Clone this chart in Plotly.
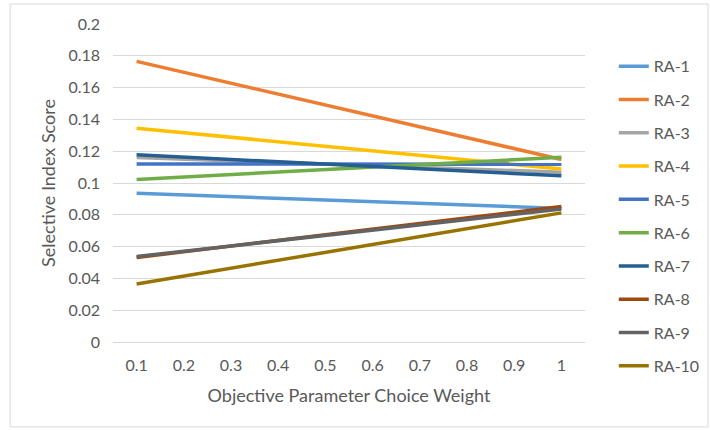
import plotly.graph_objects as go

weights = [0.1, 1.0]
tick_vals = [0.1, 0.2, 0.3, 0.4, 0.5, 0.6, 0.7, 0.8, 0.9, 1.0]
tick_text = ["0.1", "0.2", "0.3", "0.4", "0.5", "0.6", "0.7", "0.8", "0.9", "1"]

series_names = ["RA-1", "RA-2", "RA-3", "RA-4", "RA-5", "RA-6", "RA-7", "RA-8", "RA-9", "RA-10"]
ra1 = [0.0935, 0.0840]
ra2 = [0.1765, 0.1148]
ra3 = [0.1160, 0.1068]
ra4 = [0.1345, 0.1088]
ra5 = [0.1120, 0.1118]
ra6 = [0.1022, 0.1162]
ra7 = [0.1178, 0.1045]
ra8 = [0.0532, 0.0852]
ra9 = [0.0538, 0.0836]
ra10 = [0.0365, 0.0812]
series_values = [ra1, ra2, ra3, ra4, ra5, ra6, ra7, ra8, ra9, ra10]
colors = ["#5B9BD5", "#ED7D31", "#A5A5A5", "#FFC000", "#4472C4",
          "#70AD47", "#255E91", "#9E480E", "#636363", "#997300"]

fig = go.Figure()
for name, vals, col in zip(series_names, series_values, colors):
    fig.add_trace(go.Scatter(x=weights, y=vals, mode="lines", name=name,
                             legendgroup=name,
                             line=dict(color=col, width=3.5)))

font_family = "Lato, Open Sans, sans-serif"
fig.update_layout(
    width=710, height=430,
    margin=dict(l=113, r=125, t=24, b=88, autoexpand=False),
    paper_bgcolor="white", plot_bgcolor="white",
    font=dict(family=font_family, color="#595959", size=16),
    xaxis=dict(range=[0.05, 1.05], tickvals=tick_vals, ticktext=tick_text,
               showgrid=False, zeroline=False, showline=False, ticks="",
               ticklabelstandoff=12,
               title=dict(text="Objective Parameter Choice Weight", font=dict(size=18), standoff=16),
               tickfont=dict(size=16)),
    yaxis=dict(range=[0, 0.2], dtick=0.02, tickformat="~g", showgrid=True,
               gridcolor="#D9D9D9", gridwidth=1, zeroline=True, zerolinecolor="#D9D9D9",
               zerolinewidth=1, showline=False, ticks="",
               ticklabelstandoff=12,
               title=dict(text="Selective Index Score", font=dict(size=18), standoff=8),
               tickfont=dict(size=16)),
    legend=dict(x=1.061, y=0.9206, xanchor="left", yanchor="top", maxheight=420,
                tracegroupgap=9.5, font=dict(size=16), bgcolor="rgba(0,0,0,0)"),
    showlegend=True,
)
fig.add_shape(type="rect", xref="paper", yref="paper",
              x0=-0.218, x1=1.2606, y0=-0.267, y1=1.0629,
              line=dict(color="#D9D9D9", width=1), layer="below")

fig.write_html("out.html", config={"displayModeBar": False},
               post_script="document.body.style.margin='0';")
